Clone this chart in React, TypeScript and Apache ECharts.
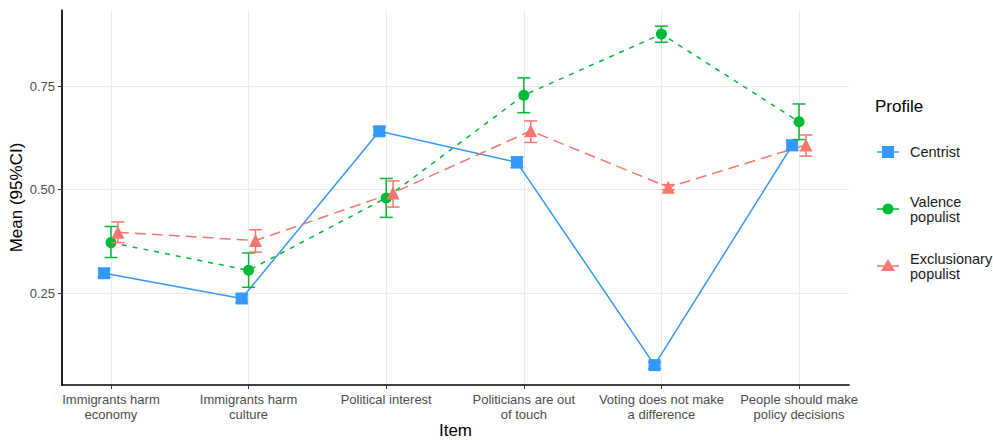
import React, { useEffect, useRef } from "react";
import * as echarts from "echarts";

const categories = [
  "Immigrants harm\neconomy",
  "Immigrants harm\nculture",
  "Political interest",
  "Politicians are out\nof touch",
  "Voting does not make\na difference",
  "People should make\npolicy decisions",
];
const yTicks = [0.25, 0.5, 0.75];
const xTicks = [1, 2, 3, 4, 5, 6];

const profiles = ["Centrist", "Valence\npopulist", "Exclusionary\npopulist"];

const centristMean = [0.298, 0.237, 0.641, 0.566, 0.076, 0.607];
const centristLow = [0.288, 0.227, 0.631, 0.553, 0.068, 0.595];
const centristHigh = [0.308, 0.247, 0.651, 0.579, 0.084, 0.619];

const valenceMean = [0.372, 0.305, 0.48, 0.728, 0.876, 0.664];
const valenceLow = [0.336, 0.264, 0.433, 0.686, 0.856, 0.621];
const valenceHigh = [0.411, 0.347, 0.527, 0.77, 0.895, 0.707];

const exclMean = [0.397, 0.377, 0.492, 0.642, 0.506, 0.608];
const exclLow = [0.372, 0.349, 0.458, 0.614, 0.5, 0.581];
const exclHigh = [0.422, 0.403, 0.521, 0.666, 0.512, 0.632];

const FONT = "'Liberation Sans', Arial, sans-serif";

export default function App() {
  const ref = useRef<HTMLDivElement>(null);
  useEffect(() => {
    if (!ref.current) return;
    const chart = echarts.init(ref.current, null, { renderer: "svg" });

    const specs = [
      { name: "Centrist", mean: centristMean, lo: centristLow, hi: centristHigh, color: "#3399FF", symbol: "rect", size: 12, dash: "solid" as any, offset: -0.05 },
      { name: "Valence populist", mean: valenceMean, lo: valenceLow, hi: valenceHigh, color: "#00BA38", symbol: "circle", size: 11, dash: [5, 6], offset: 0 },
      { name: "Exclusionary populist", mean: exclMean, lo: exclLow, hi: exclHigh, color: "#F8766D", symbol: "triangle", size: 13, dash: [11, 6], offset: 0.05 },
    ];

    const series: any[] = [];
    specs.forEach((s) => {
      series.push({
        type: "line",
        name: s.name,
        data: s.mean.map((v, i) => [xTicks[i] + s.offset, v]),
        symbol: s.symbol,
        symbolSize: s.size,
        showSymbol: true,
        lineStyle: { color: s.color, width: 1.5, type: s.dash },
        itemStyle: { color: s.color },
        z: 3,
      });
      series.push({
        type: "custom",
        name: s.name + " CI",
        data: s.mean.map((_, i) => [xTicks[i] + s.offset, s.lo[i], s.hi[i]]),
        renderItem: (params: any, api: any) => {
          const x = api.value(0);
          const pLo = api.coord([x, api.value(1)]);
          const pHi = api.coord([x, api.value(2)]);
          const hw = 6.5;
          const style = { stroke: s.color, lineWidth: 1.5, fill: "none" };
          return {
            type: "group",
            children: [
              { type: "line", shape: { x1: pLo[0], y1: pLo[1], x2: pHi[0], y2: pHi[1] }, style },
              { type: "line", shape: { x1: pLo[0] - hw, y1: pLo[1], x2: pLo[0] + hw, y2: pLo[1] }, style },
              { type: "line", shape: { x1: pHi[0] - hw, y1: pHi[1], x2: pHi[0] + hw, y2: pHi[1] }, style },
            ],
          };
        },
        z: 4,
      });
    });

    const legendYs = [152, 209, 266];
    const legendChildren: any[] = [
      { type: "text", x: 875, y: 106, style: { text: "Profile", font: `17px ${FONT}`, fill: "#000", verticalAlign: "middle" } },
    ];
    specs.forEach((s, i) => {
      const y = legendYs[i];
      legendChildren.push({ type: "line", shape: { x1: 877, y1: y, x2: 899, y2: y }, style: { stroke: s.color, lineWidth: 1.5 } });
      if (s.symbol === "rect") {
        legendChildren.push({ type: "rect", shape: { x: 882, y: y - 6, width: 12, height: 12 }, style: { fill: s.color } });
      } else if (s.symbol === "circle") {
        legendChildren.push({ type: "circle", shape: { cx: 888, cy: y, r: 5.5 }, style: { fill: s.color } });
      } else {
        legendChildren.push({ type: "polygon", shape: { points: [[888, y - 7], [895, y + 5], [881, y + 5]] }, style: { fill: s.color } });
      }
      legendChildren.push({
        type: "text",
        x: 910,
        y: y,
        style: { text: profiles[i], font: `14.5px ${FONT}`, fill: "#1A1A1A", verticalAlign: "middle", lineHeight: 15 },
      });
    });

    chart.setOption({
      animation: false,
      backgroundColor: "#fff",
      textStyle: { fontFamily: FONT },
      grid: { left: 62, right: 144, top: 10, bottom: 55, containLabel: false, outerBoundsMode: "none" },
      xAxis: {
        type: "value",
        min: 0.644,
        max: 6.363,
        name: "Item",
        nameLocation: "middle",
        nameGap: 37,
        nameMoveOverlap: false,
        nameTextStyle: { fontSize: 17, color: "#000", fontFamily: FONT },
        axisLine: { show: true, onZero: false, lineStyle: { color: "#000", width: 1.7 } },
        axisTick: { show: true, customValues: xTicks, length: 4, lineStyle: { color: "#333" } },
        axisLabel: {
          customValues: xTicks,
          formatter: (v: number) => categories[Math.round(v) - 1] ?? "",
          color: "#4D4D4D",
          fontSize: 13,
          lineHeight: 15,
          margin: 7,
          fontFamily: FONT,
        },
        splitLine: { show: true, lineStyle: { color: "#EBEBEB", width: 1 } },
      },
      yAxis: {
        type: "value",
        min: 0.028,
        max: 0.934,
        name: "Mean (95%CI)",
        nameLocation: "middle",
        nameGap: 37,
        nameMoveOverlap: false,
        nameTextStyle: { fontSize: 17, color: "#000", fontFamily: FONT },
        axisLine: { show: true, onZero: false, lineStyle: { color: "#000", width: 1.7 } },
        axisTick: { show: true, customValues: yTicks, length: 4, lineStyle: { color: "#333" } },
        axisLabel: {
          customValues: yTicks,
          formatter: (v: number) => v.toFixed(2),
          color: "#4D4D4D",
          fontSize: 13,
          margin: 7,
          fontFamily: FONT,
        },
        splitLine: { show: true, lineStyle: { color: "#EBEBEB", width: 1 } },
      },
      series,
      graphic: legendChildren,
    });
    return () => chart.dispose();
  }, []);
  return <div ref={ref} style={{ position: "fixed", left: 0, top: 0, width: 993, height: 440 }} />;
}
